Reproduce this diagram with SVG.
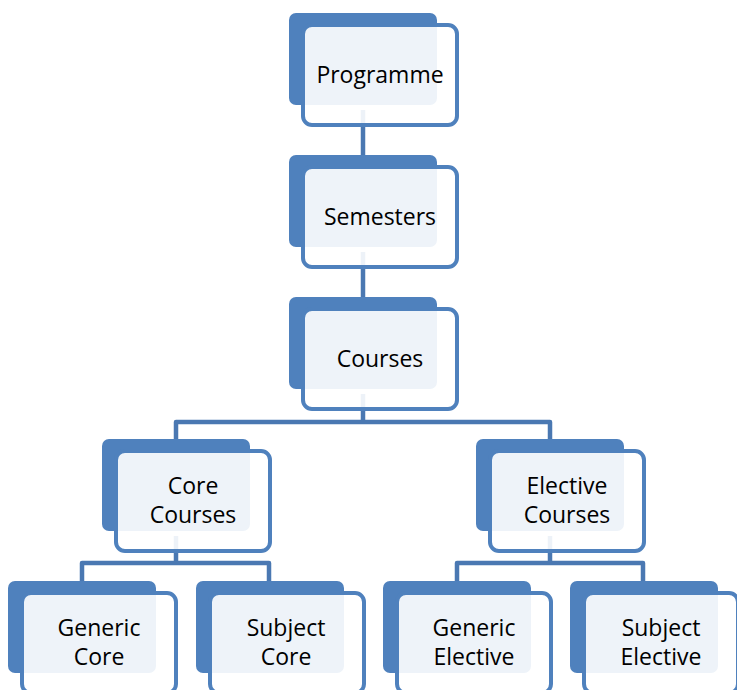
<svg xmlns="http://www.w3.org/2000/svg" width="737" height="690" viewBox="0 0 737 690">
<style>
.back{fill:#4F81BD}
.front{fill:#FFFFFF;fill-opacity:0.9;stroke:#4F81BD;stroke-width:4}
.con{fill:none;stroke:#4A78B2;stroke-width:4.5;stroke-linejoin:round}
text{font-family:"Open Sans","Noto Sans","Liberation Sans",sans-serif;font-size:23px;fill:#000;text-anchor:middle}
</style>
<rect width="737" height="690" fill="#FFFFFF"/>
<g id="connectors">
<path class="con" d="M363,110 V155"/>
<path class="con" d="M363,252 V297"/>
<path class="con" d="M363,394 V422 M176,439 V422 H550 V439"/>
<path class="con" d="M176,536 V563 M82,581 V563 H269 V581"/>
<path class="con" d="M550,536 V563 M457,581 V563 H643 V581"/>
</g>
<g id="programme">
<rect class="back" x="289" y="13" width="148" height="92" rx="7"/>
<rect class="front" x="303" y="25" width="154" height="100" rx="9"/>
<text x="380" y="83">Programme</text>
</g>
<g id="semesters">
<rect class="back" x="289" y="155" width="148" height="92" rx="7"/>
<rect class="front" x="303" y="167" width="154" height="100" rx="9"/>
<text x="380" y="225">Semesters</text>
</g>
<g id="courses">
<rect class="back" x="289" y="297" width="148" height="92" rx="7"/>
<rect class="front" x="303" y="309" width="154" height="100" rx="9"/>
<text x="380" y="367">Courses</text>
</g>
<g id="core-courses">
<rect class="back" x="102" y="439" width="148" height="92" rx="7"/>
<rect class="front" x="116" y="451" width="154" height="100" rx="9"/>
<text x="193" y="494">Core</text>
<text x="193" y="523">Courses</text>
</g>
<g id="elective-courses">
<rect class="back" x="476" y="439" width="148" height="92" rx="7"/>
<rect class="front" x="490" y="451" width="154" height="100" rx="9"/>
<text x="567" y="494">Elective</text>
<text x="567" y="523">Courses</text>
</g>
<g id="generic-core">
<rect class="back" x="8" y="581" width="148" height="92" rx="7"/>
<rect class="front" x="22" y="593" width="154" height="100" rx="9"/>
<text x="99" y="636">Generic</text>
<text x="99" y="665">Core</text>
</g>
<g id="subject-core">
<rect class="back" x="196" y="581" width="148" height="92" rx="7"/>
<rect class="front" x="210" y="593" width="154" height="100" rx="9"/>
<text x="286" y="636">Subject</text>
<text x="286" y="665">Core</text>
</g>
<g id="generic-elective">
<rect class="back" x="383" y="581" width="148" height="92" rx="7"/>
<rect class="front" x="397" y="593" width="154" height="100" rx="9"/>
<text x="474" y="636">Generic</text>
<text x="474" y="665">Elective</text>
</g>
<g id="subject-elective">
<rect class="back" x="570" y="581" width="148" height="92" rx="7"/>
<rect class="front" x="584" y="593" width="154" height="100" rx="9"/>
<text x="661" y="636">Subject</text>
<text x="661" y="665">Elective</text>
</g>
</svg>
